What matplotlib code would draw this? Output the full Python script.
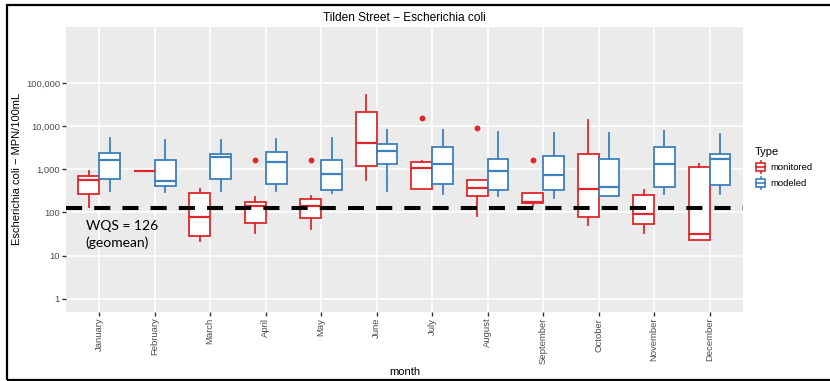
import numpy as np
import matplotlib
matplotlib.use('Agg')
import matplotlib.pyplot as plt
from matplotlib.patches import Patch, Rectangle
from matplotlib.lines import Line2D
from matplotlib.legend_handler import HandlerBase

months = ['January', 'February', 'March', 'April', 'May', 'June', 'July',
          'August', 'September', 'October', 'November', 'December']

# five-number summaries: whislo, q1, median, q3, whishi
monitored = [
    [131, 268, 575, 713, 933],
    [930, 930, 930, 930, 930],
    [22, 28, 79, 282, 350],
    [33, 58, 143, 171, 228],
    [41, 74, 138, 200, 236],
    [555, 1220, 4110, 21200, 52500],
    [350, 350, 1080, 1455, 1570],
    [84, 236, 361, 555, 555],
    [143, 166, 177, 282, 282],
    [50, 79, 356, 2230, 13800],
    [33, 55, 93, 248, 337],
    [23, 23, 31.5, 1115, 1360],
]
monitored_out = [[], [], [], [1620], [1620], [], [15900], [8980], [1620], [], [], []]

modeled = [
    [308, 599, 1683, 2404, 5370],
    [303, 403, 526, 1655, 4900],
    [320, 600, 1900, 2280, 4900],
    [313, 465, 1455, 2540, 5080],
    [283, 325, 794, 1655, 5370],
    [320, 1306, 2680, 3890, 8070],
    [268, 457, 1360, 3250, 8370],
    [236, 325, 898, 1770, 7250],
    [216, 325, 753, 2050, 7030],
    [244, 244, 381, 1770, 7030],
    [268, 381, 1336, 3250, 7650],
    [268, 424, 1770, 2280, 6650],
]
modeled_out = [[] for _ in months]

wqs = 126
y_breaks = [1, 10, 100, 1000, 10000, 100000]

RED = '#E0262A'
BLUE = '#3D80BC'
GREY_TXT = '#4D4D4D'
SANS = ['Liberation Sans', 'DejaVu Sans']


def to_stats(rows, outliers):
    stats = []
    for r, fl in zip(rows, outliers):
        stats.append(dict(whislo=r[0], q1=r[1], med=r[2], q3=r[3], whishi=r[4], fliers=fl))
    return stats


class BoxKeyHandler(HandlerBase):
    """draws a little ggplot style boxplot key"""
    def create_artists(self, legend, orig_handle, xdescent, ydescent,
                       width, height, fontsize, trans):
        c = orig_handle.get_edgecolor()
        cx = -xdescent + width / 2
        y0 = -ydescent
        bw = width * 0.8
        wh = Line2D([cx, cx], [y0 - height * 0.25, y0 + height * 1.25], color=c, lw=1.2, transform=trans)
        box = Rectangle((cx - bw / 2, y0), bw, height, facecolor='white', edgecolor=c, lw=1.2, transform=trans)
        med = Line2D([cx - bw / 2, cx + bw / 2], [y0 + height / 2] * 2, color=c, lw=1.2, transform=trans)
        return [wh, box, med]


plt.rcParams['font.family'] = SANS
fig = plt.figure(figsize=(8.3, 3.81), dpi=100)
ax = fig.add_axes([0.0795, 0.182, 0.8155, 0.747])
ax.set_facecolor('#EBEBEB')

x = np.arange(len(months))
off = 0.1875
for rows, outs, col, sign in [(monitored, monitored_out, RED, -1), (modeled, modeled_out, BLUE, 1)]:
    ax.bxp(to_stats(rows, outs), positions=x + sign * off, widths=0.375,
           patch_artist=True, showcaps=False, manage_ticks=False,
           boxprops=dict(facecolor='white', edgecolor=col, lw=1.3),
           whiskerprops=dict(color=col, lw=1.3),
           medianprops=dict(color=col, lw=1.6),
           flierprops=dict(marker='o', markerfacecolor=col, markeredgecolor=col, markersize=3.2),
           zorder=3)

ax.set_yscale('log')
ax.set_ylim(10 ** -0.3, 10 ** 6.3)
ax.set_xlim(-0.6, len(months) - 0.4)
ax.set_yticks(y_breaks)
ax.set_yticklabels(['{:,}'.format(b) for b in y_breaks])
ax.yaxis.set_minor_locator(matplotlib.ticker.NullLocator())
ax.set_xticks(x)
ax.set_xticklabels(months, rotation=90, va='top')
ax.tick_params(axis='both', labelsize=6.8, labelcolor=GREY_TXT, color='#333333',
               length=2.8, width=1, pad=1.5)

ax.grid(True, color='white', lw=1.2)
ax.set_axisbelow(True)
for sp in ax.spines.values():
    sp.set_visible(False)

ax.set_title('Tilden Street \u2212 Escherichia coli', fontsize=8.6, pad=4.5)
ax.set_ylabel('Escherichia coli \u2212 MPN/100mL', fontsize=8, labelpad=3)
ax.set_xlabel('month', fontsize=8, labelpad=2)

# water quality standard line
ax.axhline(wqs, color='black', lw=2.9, linestyle=(0, (4, 3)), zorder=5)
ax.text(0.029, 0.322, 'WQS = 126\n(geomean)', transform=ax.transAxes,
        fontsize=10, family=['Lato', 'DejaVu Sans'], va='top', ha='left', linespacing=1.45)

handles = [Patch(facecolor='white', edgecolor=RED), Patch(facecolor='white', edgecolor=BLUE)]
leg = fig.legend(handles, ['monitored', 'modeled'], title='Type',
                 handler_map={Patch: BoxKeyHandler()},
                 loc='upper left', bbox_to_anchor=(0.905, 0.625), frameon=False,
                 fontsize=6.8, title_fontsize=8, handlelength=1.2, handleheight=0.9,
                 handletextpad=0.4, labelspacing=0.7, borderaxespad=0)
leg._legend_box.align = 'left'

# black frame around the slide
fig.add_artist(Rectangle((7 / 830, 1.2 / 381), 1.1, 1 - 6.5 / 381, transform=fig.transFigure,
                         fill=False, edgecolor='black', lw=1.6, clip_on=False))

fig.savefig('out.png', dpi=100)
